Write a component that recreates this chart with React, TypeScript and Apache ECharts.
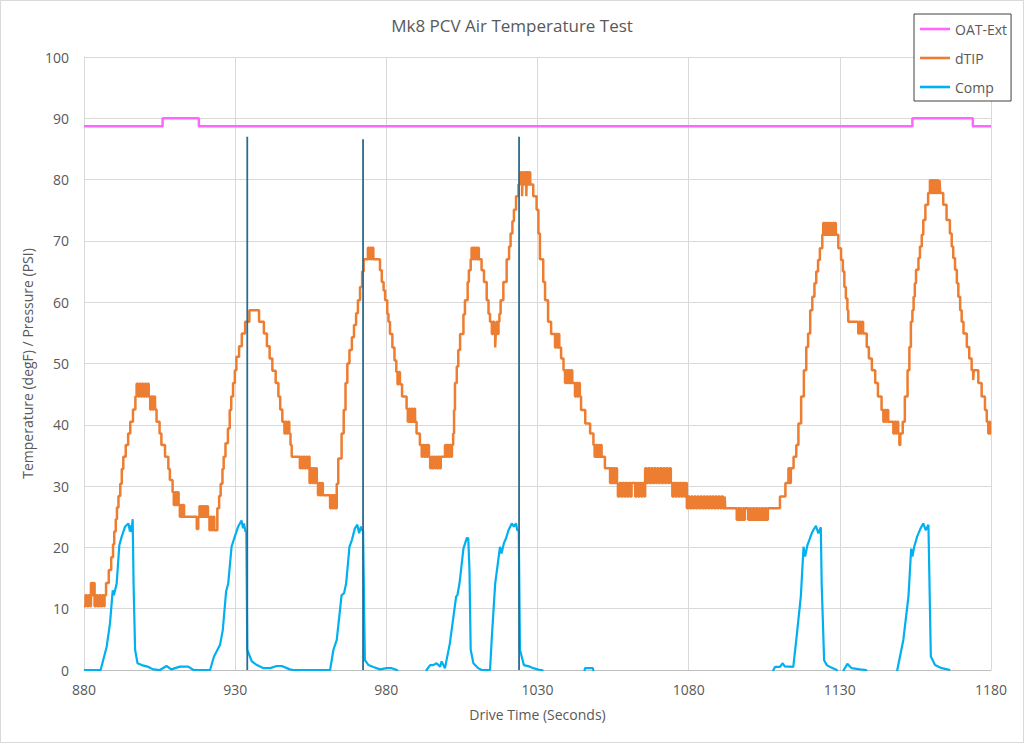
import React, { useEffect, useRef } from "react";
import * as echarts from "echarts";

const FONT = "'Open Sans', 'Liberation Sans', sans-serif";
const TEXT = "#595959";

const chartTitle = "Mk8 PCV Air Temperature Test";
const xName = "Drive Time (Seconds)";
const yName = "Temperature (degF) / Pressure (PSI)";
const seriesNames = ["OAT-Ext", "dTIP", "Comp"];

// OAT-Ext (outside air temperature), step changes [seconds, degF]
const oatExt: [number, number][] = [
  [880, 88.7], [906, 90], [918, 88.7], [1154, 90], [1174, 88.7], [1180, 88.7],
];

// dTIP temperature, sample-and-hold breakpoints [seconds, degF]
const dTip: [number, number][] = [
  [880, 10.4], [880.5, 12.2], [881, 10.4], [881.5, 12.2], [882, 10.4], [882.3, 14.2], [882.8, 12.2], [883.2, 14.2], [883.5, 10.4], [884, 12.2], [884.5, 10.4], [885, 12.2], [885.5, 10.4], [886, 12.2], [886.5, 10.4], [886.8, 12.2],
  [887.3, 14.2], [888.2, 16.3], [889, 18.4], [889.6, 20.5], [890, 22.6], [890.5, 24.6], [890.9, 26.5], [891.4, 28.4], [892, 30.4], [892.5, 32.8], [893, 34.8], [893.8, 36.7], [894.6, 38.6], [895.3, 40.5], [896.2, 42.5], [897, 44.6],
  [897.4, 46.7], [897.9, 44.6], [898.3, 46.7], [898.8, 44.6], [899.2, 46.7], [899.7, 44.6], [900.1, 46.7], [900.6, 44.6], [901, 46.7], [901.4, 44.6],
  [901.9, 42.5], [902.3, 44.6], [902.7, 42.5], [903.1, 44.6], [903.5, 42.5],
  [904, 40.5], [905, 38.6], [905.6, 36.7], [906.8, 34.8], [907.9, 32.8], [908.4, 31], [909.3, 29],
  [909.7, 26.9], [910.1, 29], [910.5, 26.9], [910.9, 29], [911.3, 26.9],
  [911.7, 25], [912.1, 26.9], [912.5, 25], [912.8, 26.9], [913.1, 25],
  [917.3, 23], [917.8, 25], [918.2, 26.7], [918.6, 25], [919, 26.7], [919.4, 25], [919.8, 26.7], [920.2, 25], [920.6, 26.7], [921, 25],
  [921.5, 22.8], [921.9, 25], [922.3, 22.8], [922.7, 25], [923.1, 22.8],
  [924.1, 26.4], [924.7, 28.4], [925.2, 30.4], [925.8, 32.8], [926.2, 34.8], [926.8, 37], [927.6, 39.4], [928.2, 42.4], [928.7, 44.6], [929.3, 46.8], [929.9, 48.9], [930.4, 51.1],
  [931.3, 52.8], [932.2, 54.9], [933.3, 56.8], [934.7, 58.7], [937.9, 56.8], [939.5, 54.9], [940.5, 52.8], [941.4, 50.8], [942.3, 48.8], [943.4, 46.8], [944.3, 44.6], [944.9, 42.5],
  [945.6, 40.5], [946.3, 38.6], [946.7, 40.5], [947.1, 38.6], [947.5, 40.5], [947.9, 38.6], [948.3, 36.7], [948.7, 34.8],
  [951.4, 32.9], [951.8, 34.8], [952.2, 32.9], [952.6, 34.8], [953, 32.9], [953.4, 34.8], [953.8, 32.9], [954.2, 34.8],
  [954.6, 30.5], [955, 32.9], [955.4, 30.5], [955.8, 32.9], [956.2, 30.5], [956.6, 32.9], [957, 30.5],
  [957.4, 28.5], [957.8, 30.5], [958.2, 28.5], [958.6, 30.5], [959, 28.5],
  [961.4, 26.4], [961.8, 28.5], [962.2, 26.4], [962.6, 28.5], [963, 26.4],
  [963.6, 30.4], [964.1, 34.5], [965.2, 38.6], [965.9, 42.4], [966.5, 46.8], [967.1, 50], [967.8, 52.2], [968.6, 54.3], [969.3, 56.3], [970, 58.2], [970.6, 60.3], [971.3, 62.5], [972, 65], [972.5, 67],
  [973.9, 68.9], [974.3, 67], [974.6, 68.9], [975, 67], [975.3, 68.9], [975.7, 67],
  [977.9, 65.2], [978.5, 63.3], [979.1, 61.9], [979.6, 60.3], [980.3, 58.1], [980.7, 56.8], [981.2, 54.8], [982, 52.6], [982.7, 50.5], [983.3, 48.6],
  [983.7, 46.6], [984.1, 48.6], [984.5, 46.6],
  [985.2, 44.6], [986.7, 42.6],
  [987.1, 40.5], [987.5, 42.6], [987.9, 40.5], [988.3, 42.6], [988.7, 40.5], [989.1, 42.6], [989.5, 40.5],
  [990, 38.6], [991.1, 36.7],
  [991.7, 34.8], [992.1, 36.7], [992.5, 34.8], [992.9, 36.7], [993.3, 34.8], [993.7, 36.7], [994.1, 34.8],
  [994.5, 32.9], [994.9, 34.8], [995.3, 32.9], [995.7, 34.8], [996.1, 32.9], [996.5, 34.8], [996.9, 32.9], [997.3, 34.8], [997.7, 32.9], [998, 34.8],
  [999.4, 36.7], [999.8, 34.8], [1000.2, 36.7], [1000.6, 34.8], [1001, 36.7], [1001.4, 34.8], [1001.7, 36.7],
  [1002.1, 38.6], [1002.4, 42.4], [1002.7, 46.8], [1003.3, 49.5], [1003.8, 52.2], [1004.4, 54.8], [1005.5, 58], [1006, 60.3], [1006.9, 63.3], [1007.3, 65.2], [1007.9, 67],
  [1008.2, 68.9], [1008.6, 67], [1008.9, 68.9], [1009.3, 67], [1009.6, 68.9], [1010, 67], [1010.3, 68.9], [1010.6, 67],
  [1011.5, 65.2], [1012.3, 63.3], [1013.2, 60.3], [1013.8, 58.1], [1014.3, 56.8],
  [1014.9, 54.8], [1015.3, 56.8], [1015.7, 54.8], [1016, 52.6], [1016.2, 54.8], [1016.5, 56.8], [1016.8, 54.8], [1017.1, 56.8],
  [1017.4, 58.1], [1017.8, 60.3], [1018.7, 63.3], [1019.8, 67], [1020.6, 69.1], [1021.1, 71.2], [1021.7, 73.2], [1022.2, 75.1], [1022.9, 77.3], [1023.7, 79.2],
  [1024.2, 81.2], [1024.6, 79.2], [1024.9, 77.3], [1025.1, 81.2], [1025.5, 79.2], [1025.9, 81.2], [1026.3, 77.3], [1026.5, 81.2], [1026.9, 79.2], [1027.3, 81.2], [1027.6, 79.2],
  [1028.6, 77.3], [1029.7, 75.1], [1030.3, 71.2], [1030.8, 67], [1031.9, 63.3], [1032.5, 60.3], [1033.5, 56.8], [1034.5, 54.8],
  [1035.8, 52.6], [1036.2, 54.8], [1036.6, 52.6], [1036.9, 54.8], [1037.2, 52.6], [1037.8, 50.8], [1038.6, 48.9],
  [1039.1, 46.8], [1039.5, 48.9], [1039.9, 46.8], [1040.3, 48.9], [1040.7, 46.8], [1041.1, 48.9], [1041.5, 46.8],
  [1042.4, 44.6], [1042.8, 46.8], [1043.2, 44.6], [1043.6, 46.8], [1044, 44.6],
  [1044.4, 42.4], [1045.8, 40.2], [1047.4, 38.6],
  [1048.5, 36.7], [1048.9, 34.8], [1049.3, 36.7], [1049.7, 34.8], [1050.1, 36.7], [1050.5, 34.8], [1050.9, 36.7], [1051.2, 34.8],
  [1052.3, 32.9],
  [1054, 30.5], [1054.4, 32.9], [1054.8, 30.5], [1055.2, 32.9], [1055.6, 30.5], [1056, 32.9], [1056.3, 30.5],
  [1056.6, 28.3], [1057.1, 30.5], [1057.6, 28.3], [1058.1, 30.5], [1058.6, 28.3], [1059.1, 30.5], [1059.6, 28.3], [1060.1, 30.5], [1060.6, 28.3], [1061.1, 30.5],
  [1062.3, 28.3], [1062.8, 30.5], [1063.3, 28.3], [1063.8, 30.5], [1064.3, 28.3], [1064.8, 30.5], [1065.3, 28.3],
  [1065.6, 32.9], [1066.1, 30.5], [1066.6, 32.9], [1067.1, 30.5], [1067.6, 32.9], [1068.1, 30.5], [1068.6, 32.9], [1069.1, 30.5], [1069.6, 32.9], [1070.1, 30.5], [1070.6, 32.9], [1071.1, 30.5], [1071.6, 32.9], [1072.1, 30.5], [1072.6, 32.9], [1073.1, 30.5], [1073.6, 32.9], [1074.1, 30.5],
  [1074.6, 28.3], [1075.1, 30.5], [1075.6, 28.3], [1076.1, 30.5], [1076.6, 28.3], [1077.1, 30.5], [1077.6, 28.3], [1078.1, 30.5], [1078.6, 28.3], [1079.1, 30.5],
  [1079.4, 26.4], [1079.9, 28.3], [1080.4, 26.4], [1080.9, 28.3], [1081.4, 26.4], [1081.9, 28.3], [1082.4, 26.4], [1082.9, 28.3], [1083.4, 26.4], [1083.9, 28.3], [1084.4, 26.4], [1084.9, 28.3], [1085.4, 26.4], [1085.9, 28.3], [1086.4, 26.4], [1086.9, 28.3], [1087.4, 26.4], [1087.9, 28.3], [1088.4, 26.4], [1088.9, 28.3], [1089.4, 26.4], [1089.9, 28.3], [1090.4, 26.4], [1090.9, 28.3], [1091.4, 26.4], [1091.9, 28.3], [1092.1, 26.4],
  [1095.9, 24.5], [1096.3, 26.4], [1096.9, 24.5], [1097.2, 26.4], [1097.5, 24.5], [1098, 26.4], [1098.3, 24.5], [1098.6, 26.4], [1099.7, 24.5], [1100.2, 26.4], [1100.7, 24.5], [1101.2, 26.4], [1101.7, 24.5], [1102.2, 26.4], [1102.7, 24.5], [1103.2, 26.4], [1103.7, 24.5], [1104.2, 26.4], [1104.7, 24.5], [1105.2, 26.4], [1105.7, 24.5], [1106.2, 26.4],
  [1110.2, 28.3], [1112, 30.5], [1113, 32.9], [1113.4, 30.5], [1113.8, 32.9], [1114.7, 34.8], [1115.6, 36.7], [1116.3, 40.2], [1117.2, 44.6], [1118.1, 48.9], [1118.9, 52.7], [1119.5, 54.9], [1120.2, 58.7], [1120.9, 60.9], [1121.6, 63.1], [1122.2, 65], [1122.8, 66.9], [1123.4, 68.8], [1124.2, 71],
  [1124.5, 72.9], [1124.9, 71], [1125.3, 72.9], [1125.7, 71], [1126.1, 72.9], [1126.5, 71], [1126.9, 72.9], [1127.3, 71], [1127.7, 72.9], [1128.1, 71], [1128.4, 72.9], [1128.7, 71],
  [1129.5, 68.8], [1130.4, 66.9], [1131, 65], [1131.5, 62.5], [1132, 60.6], [1132.5, 58.7], [1132.8, 56.8],
  [1136.1, 54.9], [1136.5, 56.8], [1136.9, 54.9], [1137.3, 56.8], [1137.7, 54.9],
  [1138.9, 52.7], [1139.6, 50.8], [1140.6, 48.9], [1141.7, 46.8], [1142.6, 44.6], [1143.8, 42.4],
  [1144.4, 40.5], [1144.8, 42.4], [1145.2, 40.5], [1145.6, 42.4], [1146, 40.5],
  [1147.7, 38.6], [1148.1, 40.5], [1148.5, 38.6], [1148.9, 40.5], [1149.3, 38.6], [1149.7, 36.7], [1150, 38.6], [1150.8, 40.5], [1151.5, 44.6], [1152.4, 48.9], [1153, 52.7], [1153.5, 56.8], [1154, 58.7], [1154.4, 60.9], [1154.8, 63.1], [1155.2, 65.3], [1156, 67.2], [1156.5, 69.1], [1157.1, 71], [1157.6, 73.4], [1158.3, 75.9], [1159.2, 77.8],
  [1159.8, 79.9], [1160.2, 77.8], [1160.6, 79.9], [1161, 77.8], [1161.4, 79.9], [1161.8, 77.8], [1162.2, 79.9], [1162.6, 77.8], [1163, 79.9],
  [1163.2, 77.8], [1164.2, 75.9], [1165.3, 73.4], [1166.4, 71.2], [1167, 69.1], [1167.5, 67.2], [1168.1, 65.3], [1168.7, 63.1], [1169.2, 60.9], [1169.8, 58.7], [1170.3, 56.8], [1170.9, 54.9], [1172, 52.7], [1172.8, 50.8], [1173.6, 48.9], [1174.1, 47.3], [1174.3, 48.9], [1175.8, 46.8], [1176.9, 44.6], [1178, 42.4], [1178.6, 40.5], [1179.1, 38.6], [1179.4, 40.5], [1179.7, 38.6], [1180, 38.6],
];

// Compressor pressure [seconds, PSI]
const comp: [number, number][] = [
  [880, 0], [885.5, 0], [887.5, 3.8], [888.6, 7.6], [889.5, 13], [889.9, 12.2], [890.8, 14.1], [891.7, 20.4], [892.5, 21.8], [893.6, 23.4], [894.7, 23.9], [895.2, 22.6], [895.4, 23.6], [895.7, 22.5], [896.1, 24.6], [896.4, 14], [896.9, 3.3], [897.7, 1.1], [899.1, 0.8], [901.3, 0.5], [902.9, 0.1], [905.1, 0], [907.3, 0.65], [908.9, 0.1], [911.7, 0.55], [914.5, 0.55], [916.2, 0], [921.7, 0],
  [923, 2.2], [925, 4.1], [925.9, 6.5], [927, 12.8], [927.7, 14.1], [928.8, 20.1], [929.9, 21.8], [931, 23.4], [932.1, 24.4], [932.6, 23.1], [932.9, 23.9], [933.4, 22.6], [933.7, 22.5], [934, 3.3], [935.5, 1.4], [937.2, 0.8], [939.4, 0.3], [941.6, 0.3], [943.7, 0.65], [945.4, 0.65], [948.1, 0.1], [949.2, 0], [961.4, 0],
  [962.5, 3.3], [963.6, 4.9], [965.2, 12.2], [966, 12.5], [966.7, 14.1], [967.8, 20.1], [968.6, 21.2], [969.6, 23.1], [970.4, 23.7], [971, 22.3], [971.6, 23.4], [971.9, 22.8], [972.3, 22.8], [972.9, 1.6], [974.1, 0.8], [975.7, 0.5], [977.9, 0.1], [980.1, 0.3], [981.8, 0.3], [983.5, 0], [984.5, -1], [993, -1],
  [993.3, 0], [994.5, 0.8], [995.5, 0.8], [996.6, 1.1], [997.8, 0.55], [998.3, 1.4], [999.4, 0.3], [1001, 4.3], [1001.9, 7.6], [1003.1, 12], [1003.5, 12.2], [1004.2, 14.1], [1005.5, 19.8], [1006.6, 21.5], [1007.1, 21.5], [1007.5, 16.3], [1007.9, 3.3], [1008.8, 1.1], [1010.4, 0.3], [1011.5, 0], [1014.3, 0],
  [1014.9, 5.4], [1016, 14.1], [1017.6, 20.1], [1018.1, 19], [1018.9, 20.7], [1019.6, 21.5], [1020.4, 22.8], [1021.5, 23.9], [1022.2, 23.4], [1022.9, 23.9], [1023.3, 22.8], [1023.8, 22.8], [1024.2, 3.3], [1025.5, 0.8], [1027.5, 0.55], [1028.6, 0.3], [1030.8, 0], [1031.6, 0], [1032.3, -1],
  [1045.2, -1], [1045.7, 0.3], [1048.3, 0.3], [1048.8, -1], [1107.6, -1],
  [1108, 0], [1108.6, 0.5], [1110.2, 0.5], [1111.1, 1.1], [1111.8, 0.6], [1114.6, 0.5], [1115.7, 5.4], [1117.1, 12], [1118, 20.1], [1118.5, 18.5], [1119.3, 20.4], [1119.9, 21.2], [1120.7, 22.3], [1121.2, 22.8], [1122.1, 23.5], [1122.9, 22.3], [1123.7, 23.3], [1124, 14], [1124.8, 1.6], [1125.7, 0.8], [1126.8, 0.5], [1129, 0], [1129.5, -1],
  [1130.9, -1], [1131.3, 0], [1132.5, 1], [1133.9, 0.3], [1136.7, 0.1], [1138.7, 0], [1139.2, -1], [1148.6, -1],
  [1149, 0], [1151, 4.9], [1152.7, 12], [1153.6, 19.8], [1154, 18.5], [1154.6, 20.1], [1155.6, 21.8], [1156.7, 23.1], [1157.6, 23.9], [1158.4, 22.8], [1159.3, 23.7], [1160.1, 2.2], [1161.5, 0.8], [1163.7, 0.3], [1166.5, 0],
];

// Event markers (vertical lines): time and top value
const markerTimes = [934, 972.3, 1023.9];
const markerTops = [87, 86.6, 87];

const COLORS = { oat: "#FF66FF", dtip: "#ED7D31", comp: "#00B0F0", marker: "#2B6C8F" };

export default function App() {
  const ref = useRef<HTMLDivElement>(null);
  useEffect(() => {
    if (!ref.current) return;
    const chart = echarts.init(ref.current, undefined, { renderer: "svg" });
    const markerSeries = markerTimes.map((t, i) => ({
      name: "marker" + i,
      type: "line",
      data: [[t, 0], [t, markerTops[i]]],
      symbol: "none",
      silent: true,
      lineStyle: { color: COLORS.marker, width: 1.8 },
      z: 5,
    }));
    chart.setOption({
      animation: false,
      backgroundColor: "#ffffff",
      title: {
        text: chartTitle,
        left: "center",
        top: 12,
        textStyle: { fontFamily: FONT, fontSize: 17, fontWeight: "normal", color: TEXT },
      },
      legend: {
        data: seriesNames,
        orient: "vertical",
        left: 914,
        top: 14,
        padding: [8, 4, 7, 6],
        itemGap: 15,
        itemWidth: 30,
        itemHeight: 14,
        icon: "path://M0,0H30V2.6H0Z",
        symbolKeepAspect: true,
        borderColor: "#404040",
        borderWidth: 1,
        backgroundColor: "#ffffff",
        textStyle: { fontFamily: FONT, fontSize: 14, color: TEXT },
      },
      grid: { left: 84, right: 33, top: 57, bottom: 73 },
      xAxis: {
        type: "value",
        min: 880,
        max: 1180,
        interval: 50,
        name: xName,
        nameLocation: "middle",
        nameGap: 37,
        nameTextStyle: { fontFamily: FONT, fontSize: 14, color: TEXT },
        axisLine: { show: true, onZero: false, lineStyle: { color: "#bfbfbf", width: 1 } },
        axisTick: { show: false },
        axisLabel: {
          margin: 12,
          fontFamily: FONT,
          fontSize: 14,
          color: TEXT,
          formatter: (v: number) => String(v),
        },
        splitLine: { show: true, lineStyle: { color: "#d9d9d9", width: 1 } },
      },
      yAxis: {
        type: "value",
        min: 0,
        max: 100,
        interval: 10,
        name: yName,
        nameLocation: "middle",
        nameGap: 46,
        nameTextStyle: { fontFamily: FONT, fontSize: 14, color: TEXT },
        axisLine: { show: true, lineStyle: { color: "#d9d9d9", width: 1 } },
        axisTick: { show: false },
        axisLabel: { margin: 15, fontFamily: FONT, fontSize: 14, color: TEXT },
        splitLine: { show: true, lineStyle: { color: "#d9d9d9", width: 1 } },
      },
      graphic: [
        {
          type: "rect",
          shape: { x: 0.5, y: 0.5, width: 1023, height: 742 },
          style: { fill: "none", stroke: "#d9d9d9", lineWidth: 1 },
          silent: true,
        },
      ],
      series: [
        {
          name: "OAT-Ext",
          type: "line",
          step: "end",
          data: oatExt,
          symbol: "none",
          lineStyle: { color: COLORS.oat, width: 2.5 },
          itemStyle: { color: COLORS.oat },
          z: 2,
        },
        {
          name: "dTIP",
          type: "line",
          step: "end",
          data: dTip,
          symbol: "none",
          lineStyle: { color: COLORS.dtip, width: 2.5 },
          itemStyle: { color: COLORS.dtip },
          z: 3,
        },
        {
          name: "Comp",
          type: "line",
          data: comp,
          symbol: "none",
          clip: true,
          lineStyle: { color: COLORS.comp, width: 2.2 },
          itemStyle: { color: COLORS.comp },
          z: 4,
        },
        ...markerSeries,
      ],
    });
    return () => chart.dispose();
  }, []);
  return (
    <div
      ref={ref}
      style={{ position: "fixed", left: 0, top: 0, width: 1024, height: 743, background: "#fff" }}
    />
  );
}
